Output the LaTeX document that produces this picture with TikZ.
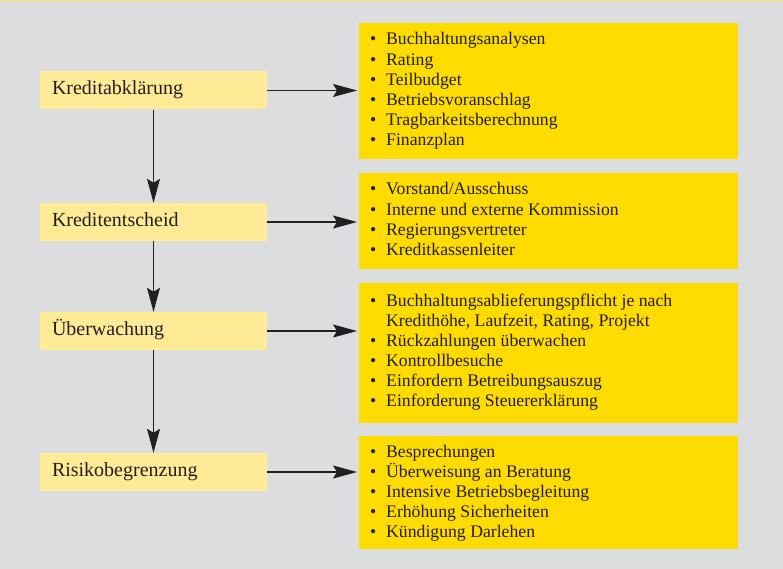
\documentclass[tikz,border=0pt]{standalone}
\usepackage{fontspec}
\setmainfont{Liberation Serif}
\usetikzlibrary{arrows.meta}
\definecolor{bg}{RGB}{220,221,223}
\definecolor{lightyel}{RGB}{255,235,150}
\definecolor{yel}{RGB}{255,220,0}
\definecolor{ink}{RGB}{35,31,32}
\definecolor{topline}{RGB}{255,226,90}
\newcommand\bitem[1]{\par\hangindent=16pt\hangafter=1\noindent\makebox[16pt][l]{\textbullet}#1}
\newcommand\blist[1]{\vtop{\hsize=360pt\parindent=0pt\raggedright\leavevmode#1\par}}
\begin{document}
\begin{tikzpicture}[x=1pt,y=-1pt,
  stage/.style={fill=lightyel, minimum width=227pt, minimum height=38pt, inner xsep=12pt, inner ysep=0pt,
    text width=203pt, align=left, text height=14pt, text depth=5pt,
    font=\fontsize{20}{24}\selectfont, text=ink},
  listbox/.style={fill=yel, inner sep=0pt, anchor=north west, minimum width=379pt},
  listtext/.style={anchor=base west, inner sep=0pt, text=ink,
    font=\fontsize{17.7}{20.1}\selectfont},
  arr/.style={draw=ink, line width=1.2pt, -{Stealth[length=24pt,width=13pt,inset=4pt]}}
]
\useasboundingbox (0,0) rectangle (783,569);
\fill[bg] (0,0) rectangle (783,569);
\fill[topline] (0,0) rectangle (783,1.5);

% left stages
\node[stage] (s1) at (153.5,90.5) {Kreditabklärung};
\node[stage] (s2) at (153.5,222) {Kreditentscheid};
\node[stage] (s3) at (153.5,331) {Überwachung};
\node[stage] (s4) at (153.5,472) {Risikobegrenzung};

% right boxes
\node[listbox, minimum height=136pt] (r1) at (359,23) {};
\node[listbox, minimum height=96pt] (r2) at (359,173) {};
\node[listbox, minimum height=140pt] (r3) at (359,283) {};
\node[listbox, minimum height=113pt] (r4) at (359,436) {};

\node[listtext] (t1) at (370,45) {\blist{%
\makebox[16pt][l]{\textbullet}Buchhaltungsanalysen
\bitem{Rating}
\bitem{Teilbudget}
\bitem{Betriebsvoranschlag}
\bitem{Tragbarkeitsberechnung}
\bitem{Finanzplan}}};

\node[listtext] (t2) at (370,195) {\blist{%
\makebox[16pt][l]{\textbullet}Vorstand/Ausschuss
\bitem{Interne und externe Kommission}
\bitem{Regierungsvertreter}
\bitem{Kreditkassenleiter}}};

\node[listtext] (t3) at (370,306) {\blist{%
\hangindent=16pt\hangafter=1\makebox[16pt][l]{\textbullet}Buchhaltungsablieferungspflicht je nach\newline Kredithöhe, Laufzeit, Rating, Projekt
\bitem{Rückzahlungen überwachen}
\bitem{Kontrollbesuche}
\bitem{Einfordern Betreibungsauszug}
\bitem{Einforderung Steuererklärung}}};

\node[listtext] (t4) at (370,457) {\blist{%
\makebox[16pt][l]{\textbullet}Besprechungen
\bitem{Überweisung an Beratung}
\bitem{Intensive Betriebsbegleitung}
\bitem{Erhöhung Sicherheiten}
\bitem{Kündigung Darlehen}}};

% arrows
\draw[arr] (s1) -- (s2);
\draw[arr] (s2) -- (s3);
\draw[arr] (s3) -- (s4);
\draw[arr, shorten >=2pt] (s1.east) -- (s1.east -| r1.west);
\draw[arr, shorten >=2pt] (s2.east) -- (s2.east -| r2.west);
\draw[arr, shorten >=2pt] (s3.east) -- (s3.east -| r3.west);
\draw[arr, shorten >=2pt] (s4.east) -- (s4.east -| r4.west);
\end{tikzpicture}
\end{document}
